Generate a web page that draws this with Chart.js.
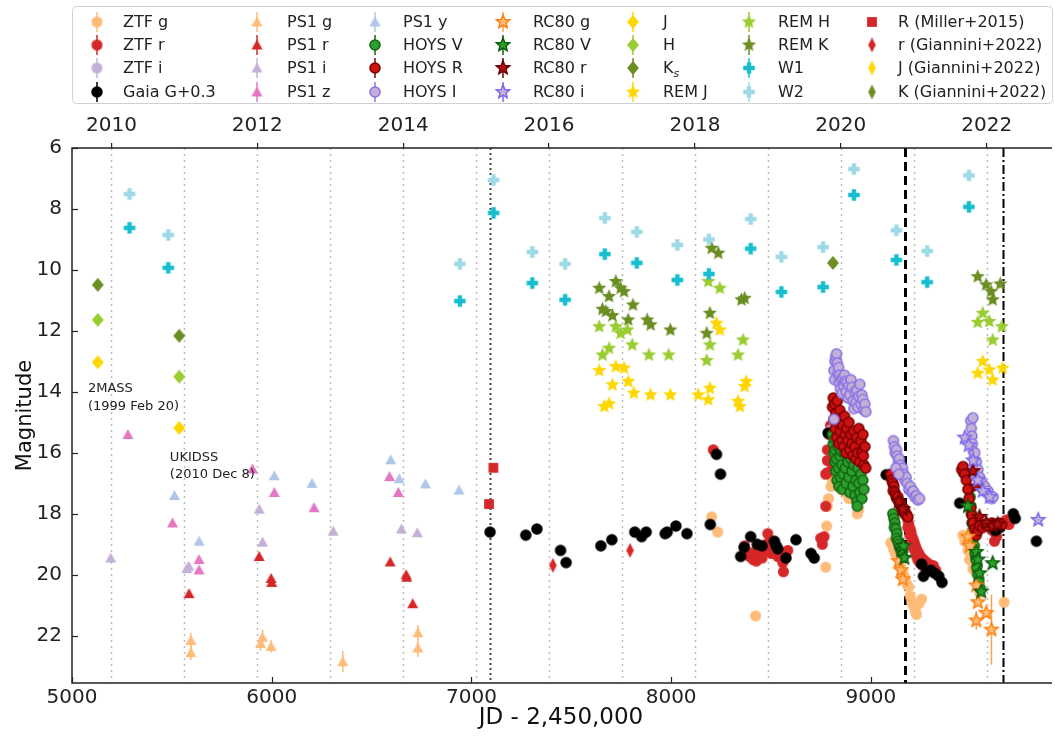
<!DOCTYPE html>
<html>
<head>
<meta charset="utf-8">
<script src="https://cdn.jsdelivr.net/npm/chart.js@4.4.0/dist/chart.umd.min.js"></script>
<style>
  html, body { margin: 0; padding: 0; background: #fff; }
  #wrap { width: 1055px; height: 737px; position: relative; }
</style>
</head>
<body>
<div id="wrap"><canvas id="lc"></canvas></div>
<script>
// Light curve data, [JD - 2450000, magnitude] (third value = error bar, where shown)
const ztfG = [[8203,18.1],[8233,18.6],[8423,21.35],
  [8774,19.75],[8779,18.4],[8782,17.75],[8788,17.5],[8800,17.1],[8807,16.9],[8832,16.8],[8843,17.0],[8851,17.2],[8873,17.3],[8890,17.5],[8932,18.0],[8940,17.85],
  [9100,18.95],[9113,19.15],[9122,19.3],[9130,19.4],[9148,19.7],[9160,19.9],[9172,20.1],[9180,20.3],[9189,20.4],[9197,20.7],[9205,20.9],[9213,21.0],[9222,21.2],[9228,21.3],[9240,20.95],[9254,20.8],
  [9461,18.7],[9470,18.9],[9486,19.2],[9494,19.5],[9505,19.5],[9511,19.8],[9520,19.85],[9528,19.8],[9540,20.2],[9545,20.6],[9667,20.9]];
const ztfR = [[8211,15.9],
  [8368,19.05],[8380,19.25],[8393,19.4],[8410,19.5],[8418,19.25],[8426,19.55],[8440,19.3],[8455,19.45],[8470,19.2],[8484,18.65],[8486,18.95],[8501,19.3],[8515,19.15],[8534,19.4],[8548,19.3],[8559,19.6],[8562,19.9],[8584,19.2],
  [8749,18.8],[8757,19.0],[8766,18.75],[8774,17.75],[8774,16.7],[8782,16.25],[8782,16.65],[8791,15.4],[8782,15.9],[8807,16.4],[8798,15.1],
  [9170,17.85],[9178,18.0],[9185,18.2],[9190,18.35],[9196,18.5],[9201,18.6],[9206,18.75],[9212,18.85],[9217,18.95],[9222,19.05],[9228,19.15],[9234,19.25],[9240,19.3],[9247,19.4],[9254,19.45],[9262,19.5],[9270,19.55],[9280,19.6],[9290,19.65],[9300,19.7],[9313,19.7],[9325,19.85],
  [9185,18.45],[9195,18.7],[9205,18.95],[9215,19.15],[9225,19.35],[9235,19.5],[9245,19.6],[9260,19.7],[9275,19.75],
  [9610,18.55],[9619,18.9],[9630,18.75],[9652,18.35],[9668,18.3],[9677,18.2],[9692,18.35]];
const ztfI = [[8815,14.9],[8800,15.25]];
const gaiaG = [[7093,18.6],[7272,18.7],[7328,18.5],[7446,19.2],[7474,19.6],[7648,19.05],[7703,18.85],[7818,18.6],[7852,18.75],[7875,18.6],[7970,18.65],[7980,18.6],[8024,18.4],[8079,18.65],[8196,18.35],[8227,16.05],[8247,16.7],
  [8348,19.4],[8365,19.1],[8398,18.75],[8431,19.0],[8455,19.05],[8517,18.9],[8526,19.05],[8534,19.15],[8575,19.45],[8625,18.85],[8700,19.3],[8716,19.45],
  [8786,15.35],[9077,16.72],[9254,19.65],[9263,20.05],[9280,19.9],[9300,19.85],[9320,19.95],[9340,20.05],[9356,20.25],
  [9445,17.65],[9465,16.65],[9624,18.55],[9647,18.45],[9713,18.0],[9723,18.15],[9829,18.9]];
const ps1G = [[5595,22.15,0.25],[5595,22.55,0.25],[5954,22.05,0.25],[5944,22.25,0.25],[5997,22.35,0.2],[6356,22.85,0.35],[6732,21.9,0.25],[6732,22.4,0.3]];
const ps1R = [[5586,20.62],[5937,19.4],[5997,20.12],[6000,20.25],[6593,19.58],[6673,20.0],[6676,20.08],[6706,20.95]];
const ps1I = [[5194,19.45],[5575,19.8],[5585,19.72],[5937,17.85],[5954,18.93],[6308,18.57],[6649,18.5],[6729,18.62]];
const ps1Z = [[5280,15.4],[5503,18.3],[5636,19.5],[5636,19.84],[5904,16.53],[6013,17.3],[6212,17.8],[6590,16.78],[6634,17.3]];
const ps1Y = [[5513,17.4],[5636,18.9],[6013,16.75],[6202,17.0],[6596,16.23],[6638,16.85],[6770,17.02],[6938,17.22]];
const hoysV = [[8808,15.4],[8812,15.7],[8815,16.0],[8818,15.55],[8820,16.3],[8822,15.9],[8825,16.6],[8828,16.2],[8830,16.9],[8835,15.8],[8838,16.5],[8840,17.1],[8845,16.1],[8848,16.8],[8852,15.95],[8855,16.4],[8858,17.2],[8862,16.7],[8868,16.0],[8872,16.5],[8876,17.0],[8880,15.9],[8885,16.3],[8890,16.8],[8895,17.3],[8900,16.2],[8905,16.6],[8910,17.1],[8915,16.4],[8920,17.4],[8925,16.9],[8930,17.6],[8935,16.5],[8940,17.0],[8945,17.3],[8950,16.7],[8955,17.5],[8960,16.9],[8965,17.2],[8932,17.75],
  [9110,18.0],[9115,18.15],[9120,18.3],[9118,18.45],[9125,18.5],[9130,18.65],[9128,18.8],[9135,18.9],[9140,19.0],[9145,19.1],[9150,19.2],[9155,19.3],[9160,19.4],
  [9497,17.45],[9500,17.75],[9503,18.0],[9506,18.3],[9510,18.55],[9514,18.8],[9518,19.05],[9522,19.3],[9526,19.5],[9530,19.75],[9535,20.0],[9540,20.25],[9548,20.45]];
const hoysR = [[8808,14.5],[8812,14.2],[8815,14.9],[8818,14.4],[8822,15.2],[8825,14.7],[8828,15.5],[8832,14.3],[8836,15.0],[8840,15.7],[8844,14.6],[8848,15.3],[8852,14.9],[8856,15.6],[8860,15.1],[8864,15.8],[8868,14.8],[8872,15.4],[8876,16.0],[8880,15.2],[8885,15.6],[8890,15.0],[8895,15.9],[8900,15.4],[8905,15.7],[8910,16.1],[8915,15.3],[8920,15.8],[8925,16.2],[8930,15.5],[8935,16.0],[8940,15.2],[8945,16.3],[8950,15.6],[8955,16.0],[8960,15.4],[8965,16.4],[8970,15.8],[8974,16.5],[8962,16.1],
  [9100,16.7],[9105,16.9],[9110,17.0],[9115,17.1],[9112,17.25],[9120,17.3],[9125,17.4],[9130,17.5],[9135,17.45],[9140,17.6],[9145,17.7],[9150,17.65],[9155,17.8],[9160,17.9],[9165,17.85],[9170,18.0],[9178,18.05],[9185,18.1],
  [9455,16.55],[9462,16.45],[9470,16.7],[9478,16.9],[9486,17.2],[9492,17.5],[9500,17.8],[9506,18.05],[9512,18.3],[9520,18.5],[9528,18.7],[9536,18.55],[9545,18.4],[9560,18.45],[9575,18.35],[9590,18.4],[9605,18.3],[9620,18.35],[9640,18.3],[9655,18.35]];
const hoysI = [[8815,13.3],[8818,13.6],[8820,13.0],[8824,12.85],[8828,12.75],[8832,13.05],[8835,13.4],[8838,13.2],[8841,13.7],[8844,13.45],[8848,13.9],[8852,13.6],[8856,14.05],[8860,13.55],[8864,13.8],[8868,13.45],[8872,13.65],[8876,14.0],[8880,13.7],[8885,14.2],[8890,13.8],[8895,14.1],[8900,13.6],[8905,13.85],[8910,14.3],[8915,14.55],[8920,14.0],[8925,14.35],[8930,13.95],[8935,14.5],[8940,14.15],[8945,13.75],[8950,14.4],[8955,14.1],[8960,14.25],[8965,14.6],[8970,14.4],[8975,14.65],[8815,14.9],
  [9113,15.6],[9118,15.8],[9122,16.0],[9128,15.9],[9132,16.1],[9138,16.3],[9142,16.2],[9148,16.4],[9152,16.6],[9158,16.5],[9165,16.7],[9170,16.9],[9176,16.8],[9182,17.0],[9190,17.2],[9198,17.1],[9205,17.3],[9212,17.25],[9220,17.45],[9228,17.4],[9235,17.55],[9244,17.5],[9125,16.5],[9140,16.7],
  [9500,14.95],[9503,15.2],[9506,15.45],[9508,15.7],[9511,14.85],[9513,15.95],[9516,16.2],[9520,16.0],[9524,16.45],[9528,16.3],[9532,16.7],[9536,16.55],[9540,16.9],[9545,16.8],[9550,17.05],[9555,16.95],[9562,17.2],[9570,17.1],[9578,17.3],[9586,17.25],[9595,17.4],[9604,17.5],[9612,17.45]];
const rc80G = [[9139,19.55],[9150,19.85],[9160,20.15],[9486,18.75],[9495,19.05],[9528,20.35],[9536,20.9],[9528,21.5,0.3],[9578,21.25],[9604,21.8,1.15]];
const rc80V = [[9155,19.2],[9163,19.05],[9168,19.45],[9486,17.75],[9528,19.25],[9536,19.5],[9544,19.95],[9553,20.55],[9610,19.62]];
const rc80R = [[9140,17.6],[9160,17.85],[9511,16.6],[9528,17.1],[9544,18.1],[9578,18.3],[9610,18.4],[9635,18.35]];
const rc80I = [[9470,15.5],[9490,15.75],[9512,16.25],[9535,16.9],[9560,17.25],[9595,17.45],[9838,18.2]];
const nirJ = [[5129,13.03],[5537,15.18]];
const nirH = [[5129,11.64],[5537,13.5]];
const nirK = [[5129,10.49],[5537,12.16],[8810,9.77]];
const remJ = [[7640,13.3],[7723,13.17],[7764,13.22],[7706,13.77],[7785,13.66],[7813,14.04],[7897,14.1],[7996,14.1],[7665,14.48],[7689,14.39],[8136,14.1],[8186,14.26],[8194,13.88],[8227,11.75],[8244,11.97],[8335,14.31],[8344,14.48],[8368,13.82],[8376,13.66],
  [9535,13.39],[9560,13.0],[9593,13.28],[9610,13.61],[9660,13.22]];
const remH = [[7640,11.86],[7723,11.86],[7747,12.08],[7781,11.97],[7689,12.57],[7656,12.79],[7805,12.46],[7889,12.79],[7988,12.79],[8186,10.38],[8244,10.6],[8194,12.46],[8178,12.97],[8360,12.3],[8335,12.79],
  [9535,11.72],[9560,11.42],[9593,11.69],[9610,12.3],[9656,11.86]];
const remK = [[7640,10.6],[7689,10.87],[7723,10.38],[7747,10.6],[7764,10.71],[7656,11.29],[7673,11.36],[7706,11.5],[7785,11.64],[7809,11.15],[7880,11.64],[7897,11.8],[7996,11.97],[8203,9.29],[8236,9.45],[8194,11.42],[8178,12.08],[8352,10.98],[8368,10.93],
  [9535,10.22],[9577,10.49],[9602,10.71],[9610,10.98],[9648,10.46]];
const wiseW1 = [[5288,8.62],[5482,9.93],[6942,11.02],[7111,8.13],[7305,10.43],[7469,10.98],[7668,9.48],[7828,9.77],[8031,10.33],[8189,10.13],[8398,9.3],[8552,10.72],[8761,10.56],[8915,7.54],[9128,9.67],[9282,10.4],[9491,7.93]];
const wiseW2 = [[5288,7.51],[5482,8.85],[6942,9.8],[7111,7.05],[7305,9.41],[7469,9.8],[7668,8.3],[7828,8.75],[8031,9.18],[8189,9.0],[8398,8.33],[8552,9.57],[8761,9.25],[8915,6.69],[9128,8.7],[9282,9.38],[9491,6.9]];
const millerR = [[7110,16.49],[7088,17.68]];
const giannR = [[7408,19.69],[7794,19.2]];
const giannJ = [];
const giannK = [];

// axes
const xTicks = [5000, 6000, 7000, 8000, 9000];
const yTicks = [6, 8, 10, 12, 14, 16, 18, 20, 22];
const yearTicks = [5197.5, 5927.5, 6658.5, 7388.5, 8119.5, 8849.5, 9580.5];
const yearLabels = ['2010', '2012', '2014', '2016', '2018', '2020', '2022'];
const yearStarts = [5197.5, 5562.5, 5927.5, 6293.5, 6658.5, 7023.5, 7388.5, 7754.5, 8119.5, 8484.5, 8849.5, 9215.5, 9580.5];
const dottedEpoch = 7092, dashedEpoch = 9172, dashDotEpoch = 9660;
const notes = [['2MASS', 5080, 13.9], ['(1999 Feb 20)', 5080, 14.5], ['UKIDSS', 5490, 16.15], ['(2010 Dec 8)', 5490, 16.7]];

// marker images
function makeMarker(shape, size, fill, edge, lw) {
  const pad = 2;
  const s = Math.ceil(size + pad * 2);
  const c = document.createElement('canvas');
  c.width = s; c.height = s;
  const g = c.getContext('2d');
  const m = s / 2, r = size / 2;
  g.beginPath();
  if (shape === 'circle') {
    g.arc(m, m, r, 0, Math.PI * 2);
  } else if (shape === 'triangle') {
    g.moveTo(m, m - r); g.lineTo(m + r, m + r * 0.8); g.lineTo(m - r, m + r * 0.8);
  } else if (shape === 'square') {
    g.rect(m - r * 0.85, m - r * 0.85, r * 1.7, r * 1.7);
  } else if (shape === 'diamond') {
    g.moveTo(m, m - r); g.lineTo(m + r * 0.85, m); g.lineTo(m, m + r); g.lineTo(m - r * 0.85, m);
  } else if (shape === 'thin') {
    g.moveTo(m, m - r); g.lineTo(m + r * 0.5, m); g.lineTo(m, m + r); g.lineTo(m - r * 0.5, m);
  } else if (shape === 'star') {
    for (let k = 0; k < 10; k++) {
      const a = -Math.PI / 2 + k * Math.PI / 5;
      const rr = k % 2 ? r * 0.45 : r;
      g.lineTo(m + rr * Math.cos(a), m + rr * Math.sin(a));
    }
  } else if (shape === 'plus') {
    const t = r * 0.38;
    const pts = [[-t,-r],[t,-r],[t,-t],[r,-t],[r,t],[t,t],[t,r],[-t,r],[-t,t],[-r,t],[-r,-t],[-t,-t]];
    pts.forEach(p => g.lineTo(m + p[0], m + p[1]));
  }
  g.closePath();
  g.fillStyle = fill;
  g.fill();
  if (edge) { g.lineWidth = lw || 1.5; g.strokeStyle = edge; g.stroke(); }
  return c;
}

const series = [
  { label: 'ZTF g', data: ztfG, marker: makeMarker('circle', 11, '#ffbb78'), bar: '#ffbb78' },
  { label: 'ZTF r', data: ztfR, marker: makeMarker('circle', 11, '#d62728'), bar: '#d62728' },
  { label: 'ZTF i', data: ztfI, marker: makeMarker('circle', 11, '#c5b0d5'), bar: '#c5b0d5' },
  { label: 'Gaia G+0.3', data: gaiaG, marker: makeMarker('circle', 11.5, '#000000'), bar: '#000000' },
  { label: 'PS1 g', data: ps1G, marker: makeMarker('triangle', 11, '#ffbb78'), bar: '#ffbb78' },
  { label: 'PS1 r', data: ps1R, marker: makeMarker('triangle', 11, '#d62728'), bar: '#d62728' },
  { label: 'PS1 i', data: ps1I, marker: makeMarker('triangle', 11, '#c5b0d5'), bar: '#c5b0d5' },
  { label: 'PS1 z', data: ps1Z, marker: makeMarker('triangle', 11, '#e377c2'), bar: '#e377c2' },
  { label: 'PS1 y', data: ps1Y, marker: makeMarker('triangle', 11, '#aec7e8'), bar: '#aec7e8' },
  { label: 'HOYS V', data: hoysV, marker: makeMarker('circle', 10, '#2ca02c', '#146614', 1.6), bar: '#146614' },
  { label: 'HOYS R', data: hoysR, marker: makeMarker('circle', 10, '#cc1111', '#7a0000', 1.6), bar: '#7a0000' },
  { label: 'HOYS I', data: hoysI, marker: makeMarker('circle', 10, '#c5b0d5', '#8a74e8', 1.6), bar: '#8a74e8' },
  { label: 'RC80 g', data: rc80G, marker: makeMarker('star', 14, '#ffbb78', '#ff7f0e', 1.5), bar: '#ff9f4a' },
  { label: 'RC80 V', data: rc80V, marker: makeMarker('star', 14, '#2ca02c', '#0b5e0b', 1.5), bar: '#0b5e0b' },
  { label: 'RC80 r', data: rc80R, marker: makeMarker('star', 14, '#b01010', '#6a0000', 1.5), bar: '#6a0000' },
  { label: 'RC80 i', data: rc80I, marker: makeMarker('star', 14, '#c5b0d5', '#7b68ee', 1.5), bar: '#7b68ee' },
  { label: 'J', data: nirJ, marker: makeMarker('diamond', 14, '#ffd700'), bar: '#ffd700' },
  { label: 'H', data: nirH, marker: makeMarker('diamond', 14, '#9acd32'), bar: '#9acd32' },
  { label: 'K', sub: 's', data: nirK, marker: makeMarker('diamond', 14, '#6b8e23'), bar: '#6b8e23' },
  { label: 'REM J', data: remJ, marker: makeMarker('star', 15, '#ffd700'), bar: '#ffd700' },
  { label: 'REM H', data: remH, marker: makeMarker('star', 15, '#9acd32'), bar: '#9acd32' },
  { label: 'REM K', data: remK, marker: makeMarker('star', 15, '#6b8e23'), bar: '#6b8e23' },
  { label: 'W1', data: wiseW1, marker: makeMarker('plus', 11.5, '#17becf'), bar: '#17becf' },
  { label: 'W2', data: wiseW2, marker: makeMarker('plus', 11.5, '#9edae5'), bar: '#9edae5' },
  { label: 'R (Miller+2015)', data: millerR, marker: makeMarker('square', 11.5, '#d62728') },
  { label: 'r (Giannini+2022)', data: giannR, marker: makeMarker('thin', 15, '#d62728') },
  { label: 'J (Giannini+2022)', data: giannJ, marker: makeMarker('thin', 15, '#ffd700') },
  { label: 'K (Giannini+2022)', data: giannK, marker: makeMarker('thin', 15, '#6b8e23') }
];

const FONT = "'DejaVu Sans', sans-serif";
Chart.defaults.font.family = FONT;
Chart.defaults.color = '#222';

// year grid, epoch lines and error bars under the points
const underlay = {
  id: 'underlay',
  beforeDatasetsDraw(chart) {
    const { ctx, chartArea: a, scales: { x, y } } = chart;
    ctx.save();
    ctx.beginPath();
    ctx.rect(a.left, a.top, a.right - a.left, a.bottom - a.top);
    ctx.clip();
    const vline = (v, color, w, dash) => {
      const px = Math.round(x.getPixelForValue(v)) + 0.5;
      ctx.strokeStyle = color; ctx.lineWidth = w; ctx.setLineDash(dash);
      ctx.beginPath(); ctx.moveTo(px, a.top); ctx.lineTo(px, a.bottom); ctx.stroke();
    };
    yearStarts.forEach(v => vline(v, '#bdbdbd', 1.5, [2, 4]));
    vline(dottedEpoch, '#444', 2, [2, 3]);
    vline(dashedEpoch, '#000', 3, [9, 5]);
    vline(dashDotEpoch, '#000', 2, [9, 3, 2, 3]);
    ctx.setLineDash([]);
    chart.data.datasets.forEach(ds => {
      if (!ds.barColor) return;
      ctx.strokeStyle = ds.barColor; ctx.lineWidth = 1.5;
      ds.data.forEach(p => {
        if (!p.e) return;
        const px = x.getPixelForValue(p.x);
        ctx.beginPath();
        ctx.moveTo(px, y.getPixelForValue(p.y - p.e));
        ctx.lineTo(px, y.getPixelForValue(p.y + p.e));
        ctx.stroke();
      });
    });
    ctx.restore();
  }
};

// frame, inward ticks, notes and the legend
const overlay = {
  id: 'overlay',
  afterDraw(chart) {
    const { ctx, chartArea: a, scales: { x, y } } = chart;
    ctx.save();
    ctx.strokeStyle = '#222'; ctx.lineWidth = 1.5;
    ctx.beginPath();
    ctx.moveTo(a.right + 2, a.top); ctx.lineTo(a.left, a.top); ctx.lineTo(a.left, a.bottom); ctx.lineTo(a.right + 2, a.bottom);
    ctx.stroke();
    ctx.lineWidth = 1.2;
    xTicks.forEach(v => {
      const px = Math.round(x.getPixelForValue(v)) + 0.5;
      ctx.beginPath(); ctx.moveTo(px, a.bottom); ctx.lineTo(px, a.bottom - 6); ctx.stroke();
    });
    yTicks.forEach(v => {
      const py = Math.round(y.getPixelForValue(v)) + 0.5;
      ctx.beginPath(); ctx.moveTo(a.left, py); ctx.lineTo(a.left + 6, py); ctx.stroke();
    });

    ctx.fillStyle = '#222';
    ctx.font = '13px ' + FONT;
    ctx.textBaseline = 'middle'; ctx.textAlign = 'left';
    notes.forEach(n => ctx.fillText(n[0], x.getPixelForValue(n[1]), y.getPixelForValue(n[2])));

    // legend
    const box = { l: 72.5, t: 6.5, r: 1052.5, b: 103.5 };
    ctx.beginPath();
    ctx.roundRect(box.l, box.t, box.r - box.l, box.b - box.t, 4);
    ctx.fillStyle = 'rgba(255,255,255,0.85)'; ctx.fill();
    ctx.strokeStyle = '#d0d0d0'; ctx.lineWidth = 1; ctx.stroke();
    const markX = [97, 257, 375, 503, 633, 749, 872];
    const textX = [123, 287, 403, 533, 663, 778, 898];
    const rowY = [22, 45, 68, 92];
    chart.data.datasets.forEach((ds, i) => {
      const s = series[i];
      const col = Math.floor(i / 4), row = i % 4;
      const mx = markX[col], my = rowY[row];
      if (s.bar) {
        ctx.strokeStyle = s.bar; ctx.lineWidth = 1.5;
        ctx.beginPath(); ctx.moveTo(mx, my - 10); ctx.lineTo(mx, my + 10); ctx.stroke();
      }
      const img = s.marker;
      ctx.drawImage(img, mx - img.width / 2, my - img.height / 2);
      ctx.fillStyle = '#222';
      ctx.font = '16px ' + FONT;
      ctx.fillText(ds.label, textX[col], my + 1);
      if (s.sub) {
        const w = ctx.measureText(ds.label).width;
        ctx.font = 'italic 11px ' + FONT;
        ctx.fillText(s.sub, textX[col] + w, my + 6);
      }
    });
    ctx.restore();
  }
};

new Chart(document.getElementById('lc'), {
  type: 'scatter',
  data: {
    datasets: series.map((s, i) => ({
      label: s.label,
      data: s.data.map(p => ({ x: p[0], y: p[1], e: p[2] })),
      pointStyle: s.marker,
      barColor: s.bar,
      showLine: false,
      order: -i
    }))
  },
  options: {
    responsive: true,
    maintainAspectRatio: false,
    animation: false,
    events: [],
    layout: { padding: { top: 103, right: 0, left: 0, bottom: 0 } },
    plugins: { legend: { display: false }, tooltip: { enabled: false } },
    scales: {
      x: {
        type: 'linear', position: 'bottom', min: 5000, max: 9897,
        afterBuildTicks: s => { s.ticks = xTicks.map(v => ({ value: v })); },
        afterFit: s => { s.height = 54; },
        grid: { display: false, drawTicks: false },
        border: { display: false },
        ticks: { autoSkip: false, maxRotation: 0, padding: 3, font: { size: 20 }, color: '#222', callback: v => String(v) },
        title: { display: true, text: 'JD - 2,450,000', font: { size: 23 }, color: '#111', padding: { top: 0, bottom: 5 } }
      },
      xTop: {
        type: 'linear', position: 'top', min: 5000, max: 9897,
        afterBuildTicks: s => { s.ticks = yearTicks.map(v => ({ value: v })); },
        afterFit: s => { s.height = 45; },
        grid: { display: true, drawOnChartArea: false, drawTicks: true, tickLength: 5, color: '#222', lineWidth: 1.2 },
        border: { display: false },
        ticks: { autoSkip: false, maxRotation: 0, padding: 5, font: { size: 20 }, color: '#222', callback: (v, i) => yearLabels[i] }
      },
      y: {
        type: 'linear', position: 'left', reverse: true, min: 6, max: 23.55,
        afterBuildTicks: s => { s.ticks = yTicks.map(v => ({ value: v })); },
        afterFit: s => { s.width = 72; },
        grid: { display: false, drawTicks: false },
        border: { display: false },
        ticks: { autoSkip: false, padding: 10, font: { size: 20 }, color: '#222' },
        title: { display: true, text: 'Magnitude', font: { size: 21 }, color: '#111', padding: { top: 13, bottom: 0 } }
      }
    }
  },
  plugins: [underlay, overlay]
});
</script>
</body>
</html>
